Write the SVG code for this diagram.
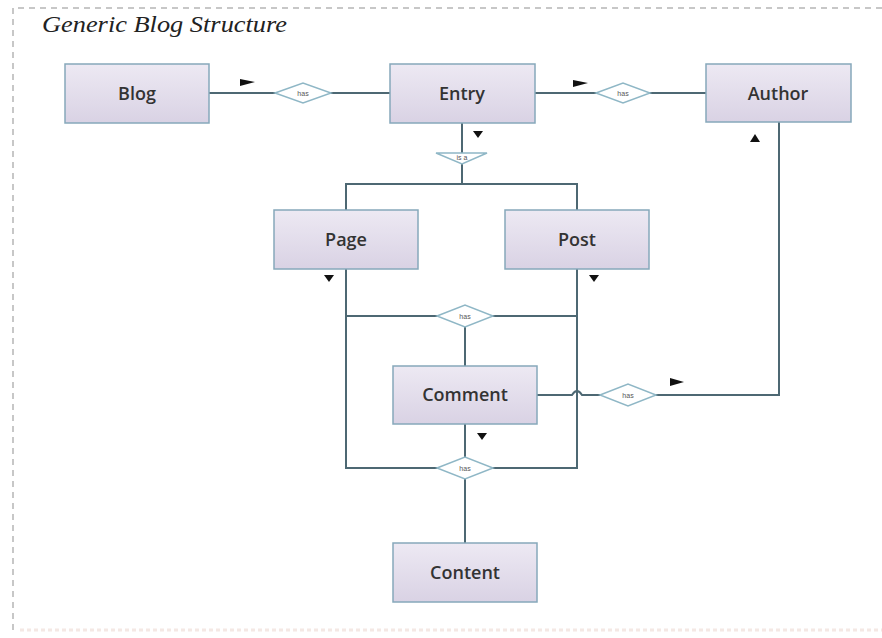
<svg xmlns="http://www.w3.org/2000/svg" width="882" height="638" viewBox="0 0 882 638">
<defs>
<linearGradient id="boxfill" x1="0" y1="0" x2="0" y2="1">
<stop offset="0" stop-color="#ede9f3"/>
<stop offset="1" stop-color="#d9d2e4"/>
</linearGradient>
<style>
.box{fill:url(#boxfill);stroke:#86a8bb;stroke-width:1.5}
.lbl{font-family:"Open Sans","Noto Sans",sans-serif;font-weight:600;font-size:18px;fill:#333;text-anchor:middle;dominant-baseline:central}
.line{stroke:#4d6873;stroke-width:2;fill:none}
.dia{fill:#fff;stroke:#8fb7c6;stroke-width:1.5}
.dt{font-family:"Liberation Sans",sans-serif;font-size:7px;fill:#555;text-anchor:middle;dominant-baseline:central}
.arr{fill:#111}
.border{stroke:#b5b5b5;stroke-width:1.5;stroke-dasharray:6 5;fill:none}
</style>
</defs>
<rect width="882" height="638" fill="#fff"/>
<path class="border" d="M882 8 H13 V630"/>
<path d="M20 630 H882" stroke="#f4e8e4" stroke-width="3" stroke-dasharray="4 3" fill="none"/>
<text x="42" y="32" font-family="'Liberation Serif',serif" font-style="italic" font-size="23" fill="#222" textLength="245" lengthAdjust="spacingAndGlyphs">Generic Blog Structure</text>

<g id="connectors">
<path class="line" d="M209 93 H390"/>
<path class="line" d="M535 93 H706"/>
<path class="line" d="M462 123 V184"/>
<path class="line" d="M346 210 V184 H577 V210"/>
<path class="line" d="M346 269 V468 H577 V269"/>
<path class="line" d="M346 316 H577"/>
<path class="line" d="M465 316 V366"/>
<path class="line" d="M465 424 V543"/>
<path class="line" d="M537 395 H572 Q577 387 582 395 H779 V122"/>
<g id="rel-blog-entry"><polygon class="dia" points="275,93 303,83 331,93 303,103"/><text class="dt" x="303" y="93">has</text></g>
<g id="rel-entry-author"><polygon class="dia" points="596,93 623,83 650,93 623,103"/><text class="dt" x="623" y="93">has</text></g>
<g id="isa"><polygon class="dia" points="436,153 487,153 462,164"/><text class="dt" x="462" y="157" font-size="6">is a</text></g>
<g id="rel-entry-comment"><polygon class="dia" points="437,316 465,305 493,316 465,327"/><text class="dt" x="465" y="316">has</text></g>
<g id="rel-comment-author"><polygon class="dia" points="600,395 628,384 656,395 628,406"/><text class="dt" x="628" y="395">has</text></g>
<g id="rel-content"><polygon class="dia" points="437,468 465,457 493,468 465,479"/><text class="dt" x="465" y="468">has</text></g>
<polygon class="arr" points="240,79 255,82 240,86"/>
<polygon class="arr" points="573,80 588,83 573,87"/>
<polygon class="arr" points="473,131 483,131 478,138"/>
<polygon class="arr" points="750,142 760,142 755,134"/>
<polygon class="arr" points="324,275 334,275 329,282"/>
<polygon class="arr" points="589,275 599,275 594,282"/>
<polygon class="arr" points="477,433 487,433 482,440"/>
<polygon class="arr" points="670,378 684,382 670,386"/>
</g>

<g id="blog"><rect class="box" x="65" y="64" width="144" height="59"/><text class="lbl" x="137" y="93">Blog</text></g>
<g id="entry"><rect class="box" x="390" y="64" width="145" height="59"/><text class="lbl" x="462" y="93">Entry</text></g>
<g id="author"><rect class="box" x="706" y="64" width="145" height="58"/><text class="lbl" x="778" y="93">Author</text></g>
<g id="page"><rect class="box" x="274" y="210" width="144" height="59"/><text class="lbl" x="346" y="239">Page</text></g>
<g id="post"><rect class="box" x="505" y="210" width="144" height="59"/><text class="lbl" x="577" y="239">Post</text></g>
<g id="comment"><rect class="box" x="393" y="366" width="144" height="58"/><text class="lbl" x="465" y="394">Comment</text></g>
<g id="content"><rect class="box" x="393" y="543" width="144" height="59"/><text class="lbl" x="465" y="572">Content</text></g>
</svg>
